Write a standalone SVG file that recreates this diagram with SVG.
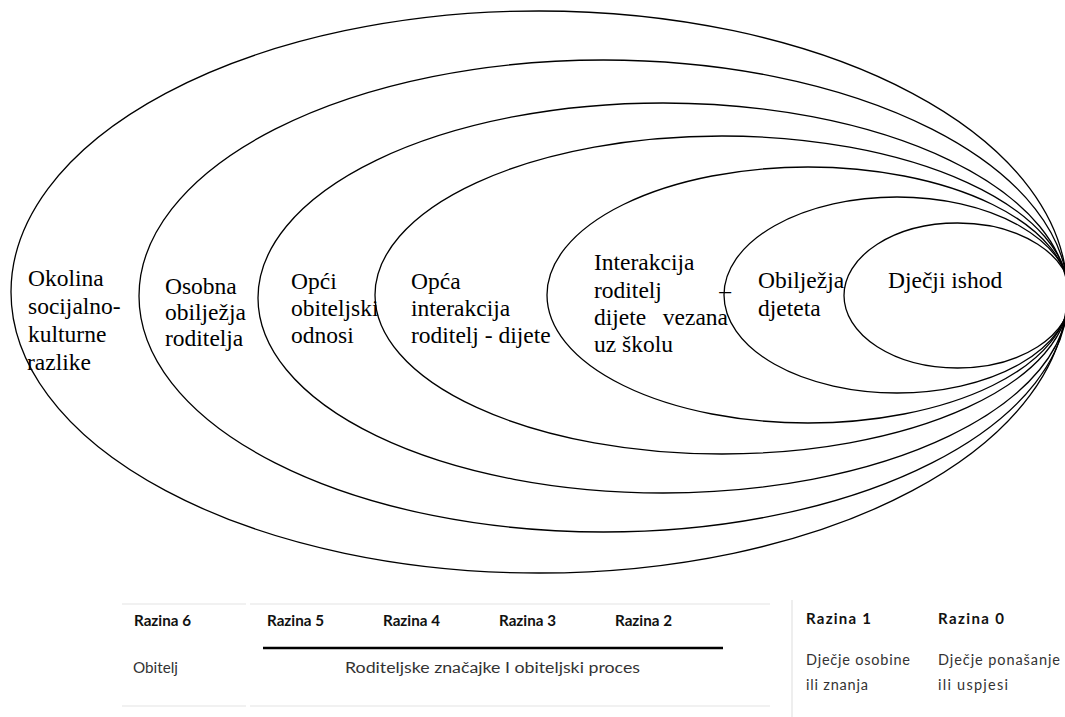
<svg xmlns="http://www.w3.org/2000/svg" width="1065" height="717" viewBox="0 0 1065 717">
<style>
.e{fill:none;stroke:#000;stroke-width:1.3}
.t{font-family:"Liberation Serif","Times New Roman",serif;font-size:23.5px;fill:#000}
.h{font-family:Lato,"Liberation Sans",sans-serif;font-size:15px;font-weight:bold;fill:#111}
.r{font-family:Lato,"Liberation Sans",sans-serif;font-size:14.5px;fill:#333}
.g{stroke:#e3e3e3;stroke-width:1.2}
</style>
<rect width="1065" height="717" fill="#fff"/>
<g id="level6">
<ellipse class="e" cx="539" cy="292" rx="528" ry="281"/>
<text class="t"><tspan x="28" y="286">Okolina</tspan><tspan x="28" y="314">socijalno-</tspan><tspan x="28" y="342">kulturne</tspan><tspan x="27" y="370">razlike</tspan></text>
</g>
<g id="level5">
<ellipse class="e" cx="603.5" cy="296" rx="464.5" ry="236"/>
<text class="t"><tspan x="165" y="294">Osobna</tspan><tspan x="165" y="320">obilježja</tspan><tspan x="165" y="346">roditelja</tspan></text>
</g>
<g id="level4">
<ellipse class="e" cx="663" cy="298" rx="405" ry="195"/>
<text class="t"><tspan x="291" y="289">Opći</tspan><tspan x="291" y="316">obiteljski</tspan><tspan x="291" y="343">odnosi</tspan></text>
</g>
<g id="level3">
<ellipse class="e" cx="722" cy="295" rx="347" ry="159"/>
<text class="t"><tspan x="411" y="289">Opća</tspan><tspan x="411" y="316">interakcija</tspan><tspan x="411" y="343">roditelj - dijete</tspan></text>
</g>
<g id="level2">
<ellipse class="e" cx="808" cy="295" rx="261" ry="128"/>
<text class="t"><tspan x="594" y="270">Interakcija</tspan><tspan x="594" y="298">roditelj</tspan><tspan x="594" y="325">dijete</tspan><tspan x="594" y="352">uz školu</tspan></text>
<text class="t" x="728" y="325" text-anchor="end">vezana</text>
<text class="t" x="731" y="298" text-anchor="end">–</text>
</g>
<g id="level1">
<ellipse class="e" cx="897" cy="295" rx="173" ry="98"/>
<text class="t"><tspan x="758" y="288">Obilježja</tspan><tspan x="758" y="316">djeteta</tspan></text>
</g>
<g id="level0">
<ellipse class="e" cx="957.5" cy="295.5" rx="113.5" ry="72.5"/>
<text class="t" x="888" y="288">Dječji ishod</text>
</g>
<g id="connectors"></g>
<g id="legend">
<line class="g" x1="122" y1="604" x2="246" y2="604"/>
<line class="g" x1="250" y1="604" x2="770" y2="604"/>
<line class="g" x1="122" y1="706" x2="246" y2="706"/>
<line class="g" x1="250" y1="706" x2="770" y2="706"/>
<line class="g" x1="792" y1="600" x2="792" y2="717"/>
<line x1="263" y1="648" x2="723" y2="648" stroke="#000" stroke-width="2.5"/>
<text class="h" x="134" y="626" textLength="57" lengthAdjust="spacingAndGlyphs">Razina 6</text>
<text class="h" x="267" y="626" textLength="57" lengthAdjust="spacingAndGlyphs">Razina 5</text>
<text class="h" x="383" y="626" textLength="57" lengthAdjust="spacingAndGlyphs">Razina 4</text>
<text class="h" x="499" y="626" textLength="57" lengthAdjust="spacingAndGlyphs">Razina 3</text>
<text class="h" x="615" y="626" textLength="57" lengthAdjust="spacingAndGlyphs">Razina 2</text>
<text class="r" x="133" y="673" textLength="45" lengthAdjust="spacingAndGlyphs">Obitelj</text>
<text class="r" x="345" y="673" textLength="295" lengthAdjust="spacingAndGlyphs">Roditeljske značajke I obiteljski proces</text>
<text class="h" x="806" y="624" textLength="65" lengthAdjust="spacing">Razina 1</text>
<text class="h" x="938" y="624" textLength="66" lengthAdjust="spacing">Razina 0</text>
<text class="r" x="806" y="665" textLength="104" lengthAdjust="spacing">Dječje osobine</text>
<text class="r" x="806" y="690" textLength="62" lengthAdjust="spacing">ili znanja</text>
<text class="r" x="938" y="665" textLength="122" lengthAdjust="spacing">Dječje ponašanje</text>
<text class="r" x="938" y="690" textLength="70" lengthAdjust="spacing">ili uspjesi</text>
</g>
</svg>
